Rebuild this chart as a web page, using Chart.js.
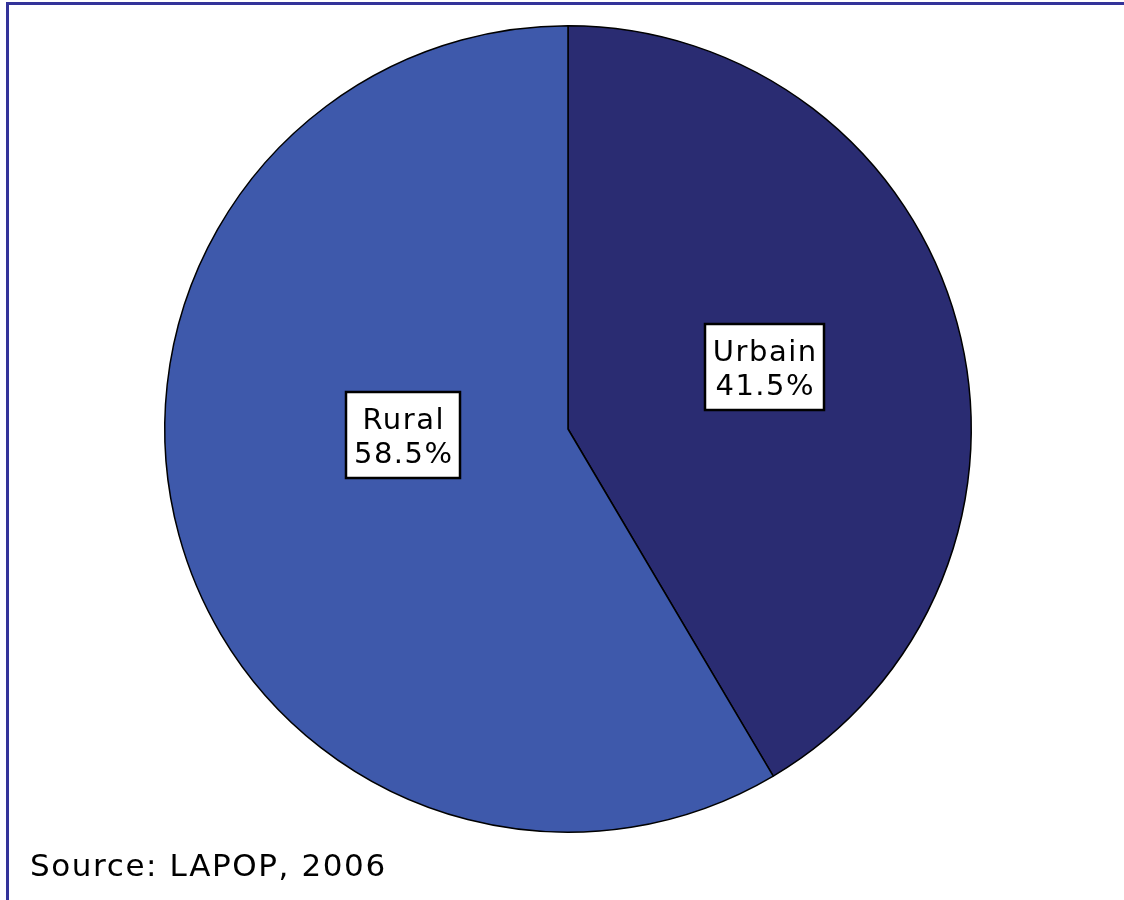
<!DOCTYPE html>
<html>
<head>
<meta charset="utf-8">
<script src="https://cdn.jsdelivr.net/npm/chart.js@4/dist/chart.umd.min.js"></script>
<style>
  html, body { margin: 0; padding: 0; background: #ffffff; }
  #wrap { position: relative; width: 1124px; height: 900px; }
  #frame { position: absolute; left: 6px; top: 2px; right: 0; bottom: 0;
           border-top: 3px solid #333399; border-left: 3px solid #333399; }
  canvas { position: absolute; left: 0; top: 0; }
</style>
</head>
<body>
<div id="wrap">
  <canvas id="c" width="1124" height="900"></canvas>
  <div id="frame"></div>
</div>
<script>
// Population by area of residence
const categories = ['Urbain', 'Rural'];
const shares = [41.5, 58.5];
const sliceColors = ['#2a2c72', '#3e59ab'];
const sourceNote = 'Source: LAPOP, 2006';

const FONT = '"DejaVu Sans", Verdana, sans-serif';

// Boxed two-line labels (name + percentage) inside each slice
const boxLabels = {
  id: 'boxLabels',
  afterDatasetsDraw(chart, args, opts) {
    const ctx = chart.ctx;
    const meta = chart.getDatasetMeta(0);
    meta.data.forEach((arc, i) => {
      const p = arc.getProps(['x', 'y', 'startAngle', 'endAngle', 'outerRadius'], true);
      const mid = (p.startAngle + p.endAngle) / 2 + (opts.angleShift[i] || 0);
      const r = p.outerRadius * opts.radial[i];
      const cx = p.x + Math.cos(mid) * r;
      const cy = p.y + Math.sin(mid) * r;
      const lines = [categories[i], shares[i].toFixed(1) + '%'];
      ctx.save();
      ctx.font = opts.size + 'px ' + FONT;
      ctx.letterSpacing = opts.spacing + 'px';
      const tw = Math.max(...lines.map(t => ctx.measureText(t).width)) - opts.spacing;
      const w = Math.round(tw + 2 * opts.padX);
      const h = opts.boxH;
      const x0 = Math.round(cx - w / 2), y0 = Math.round(cy - h / 2);
      ctx.fillStyle = '#ffffff';
      ctx.fillRect(x0, y0, w, h);
      ctx.strokeStyle = '#000000';
      ctx.lineWidth = 2.5;
      ctx.strokeRect(x0, y0, w, h);
      ctx.fillStyle = '#000000';
      ctx.textAlign = 'left';
      ctx.textBaseline = 'alphabetic';
      lines.forEach((t, k) => {
        const lw = ctx.measureText(t).width - opts.spacing;
        ctx.fillText(t, x0 + (w - lw) / 2, y0 + opts.firstBase + opts.lineH * k);
      });
      ctx.restore();
    });
  }
};

// Source note in the lower-left corner
const sourceText = {
  id: 'sourceText',
  afterDraw(chart) {
    const ctx = chart.ctx;
    ctx.save();
    ctx.font = '31px ' + FONT;
    ctx.letterSpacing = '1.6px';
    ctx.fillStyle = '#000000';
    ctx.textAlign = 'left';
    ctx.textBaseline = 'alphabetic';
    ctx.fillText(sourceNote, 30, 876);
    ctx.restore();
  }
};

new Chart(document.getElementById('c'), {
  type: 'pie',
  data: {
    labels: categories,
    datasets: [{
      data: shares,
      backgroundColor: sliceColors,
      borderColor: '#000000',
      borderWidth: 1.5,
      borderAlign: 'center'
    }]
  },
  options: {
    responsive: false,
    animation: false,
    layout: { padding: { top: 25, bottom: 67, left: 12, right: 0 } },
    plugins: {
      legend: { display: false },
      tooltip: { enabled: false },
      boxLabels: {
        radial: [0.51, 0.41],
        angleShift: [-0.04, 0.23],
        size: 29, spacing: 1.5, lineH: 34, firstBase: 37, boxH: 86, padX: 8
      }
    }
  },
  plugins: [boxLabels, sourceText]
});
</script>
</body>
</html>
